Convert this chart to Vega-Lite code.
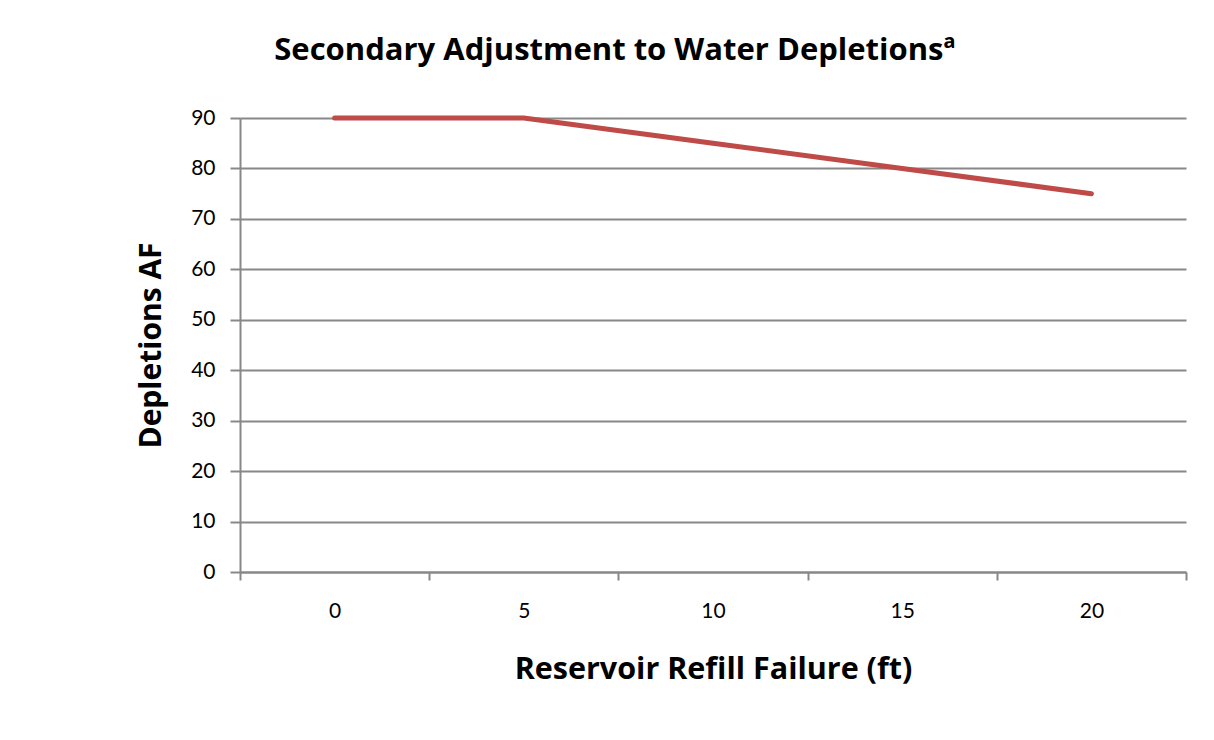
{
  "$schema": "https://vega.github.io/schema/vega-lite/v6.json",
  "width": 946,
  "height": 454,
  "autosize": {"type": "none"},
  "padding": {"left": 240, "top": 118, "right": 28, "bottom": 168},
  "background": "white",
  "config": {"view": {"stroke": null}, "font": "Lato"},
  "title": {
    "text": "Secondary Adjustment to Water Depletionsª",
    "font": "Open Sans",
    "fontSize": 31,
    "fontWeight": "bold",
    "color": "black",
    "anchor": "middle",
    "frame": "bounds",
    "offset": 40,
    "dx": -47
  },
  "data": {
    "values": [
      {"failure": 0, "depletions": 90},
      {"failure": 5, "depletions": 90},
      {"failure": 10, "depletions": 85},
      {"failure": 15, "depletions": 80},
      {"failure": 20, "depletions": 75}
    ]
  },
  "mark": {"type": "line", "color": "#BE4B48", "strokeWidth": 5, "strokeCap": "round"},
  "encoding": {
    "x": {
      "field": "failure",
      "type": "quantitative",
      "scale": {"domain": [-2.5, 22.5], "nice": false, "zero": false},
      "axis": {
        "title": "Reservoir Refill Failure (ft)",
        "titleFont": "Open Sans",
        "titleFontSize": 30.5,
        "titleFontWeight": "bold",
        "titleColor": "black",
        "titlePadding": 33,
        "values": [-2.5, 0, 2.5, 5, 7.5, 10, 12.5, 15, 17.5, 20, 22.5],
        "labelExpr": "datum.value % 5 == 0 ? datum.label : ''",
        "labelFont": "Lato",
        "labelFontSize": 21,
        "labelColor": "black",
        "labelPadding": 20,
        "labelFlush": false,
        "labelOverlap": false,
        "tickSize": 8,
        "tickWidth": 2,
        "tickColor": "#888888",
        "tickOpacity": {"condition": {"test": "datum.value % 5 == 0", "value": 0}, "value": 1},
        "domainColor": "#888888",
        "domainWidth": 2,
        "grid": false
      }
    },
    "y": {
      "field": "depletions",
      "type": "quantitative",
      "scale": {"domain": [0, 90], "nice": false},
      "axis": {
        "title": "Depletions AF",
        "titleFont": "Open Sans",
        "titleFontSize": 30,
        "titleFontWeight": "bold",
        "titleColor": "black",
        "titlePadding": 24,
        "values": [0, 10, 20, 30, 40, 50, 60, 70, 80, 90],
        "labelFont": "Lato",
        "labelFontSize": 21,
        "labelColor": "black",
        "labelPadding": 15,
        "tickSize": 10,
        "tickWidth": 2,
        "tickColor": "#888888",
        "domainColor": "#888888",
        "domainWidth": 2,
        "gridColor": "#888888",
        "gridWidth": 2,
        "grid": true
      }
    }
  }
}
